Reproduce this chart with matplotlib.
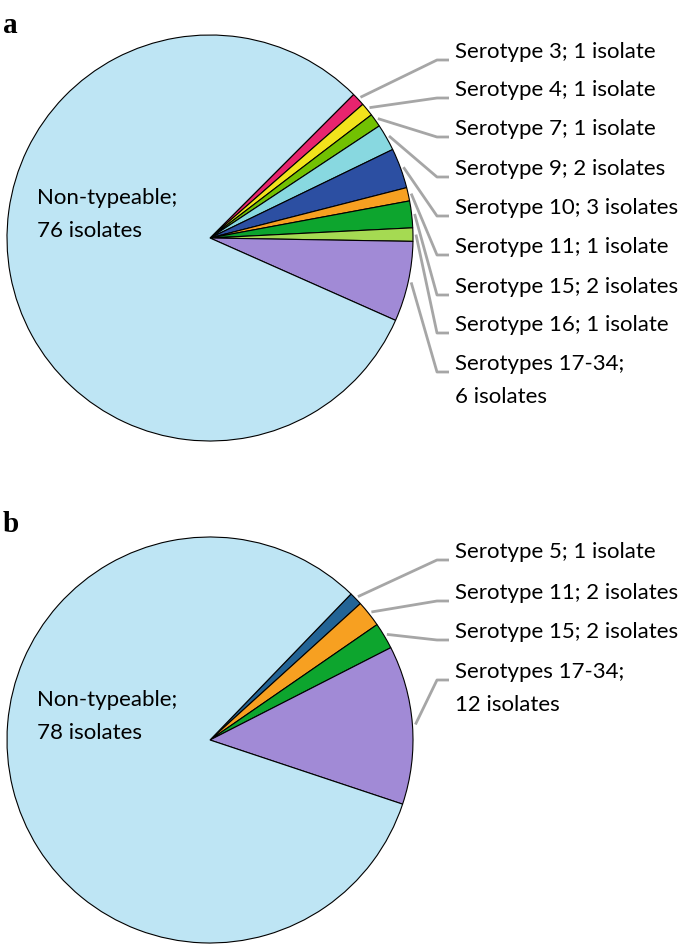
import numpy as np
import matplotlib
matplotlib.use("Agg")
import matplotlib.pyplot as plt

plt.rcParams['font.family'] = ['Lato', 'DejaVu Sans']

# panel a
labels_a = ['Serotype 3; 1 isolate', 'Serotype 4; 1 isolate', 'Serotype 7; 1 isolate',
            'Serotype 9; 2 isolates', 'Serotype 10; 3 isolates', 'Serotype 11; 1 isolate',
            'Serotype 15; 2 isolates', 'Serotype 16; 1 isolate', 'Serotypes 17-34;\n6 isolates']
counts_a = [1, 1, 1, 2, 3, 1, 2, 1, 6]
nontype_a = 76
colors_a = ['#E8246E', '#F2E31C', '#72C102', '#88D8E0', '#2C4FA2', '#F7A021',
            '#0DA52E', '#A5DA52', '#A18AD6']

# panel b
labels_b = ['Serotype 5; 1 isolate', 'Serotype 11; 2 isolates', 'Serotype 15; 2 isolates',
            'Serotypes 17-34;\n12 isolates']
counts_b = [1, 2, 2, 12]
nontype_b = 78
colors_b = ['#236496', '#F7A021', '#0DA52E', '#A18AD6']

nt_color = '#BEE5F4'
H = 946
FS = 16

fig = plt.figure(figsize=(6.85, 9.46), dpi=100)
ax = fig.add_axes([0, 0, 1, 1])


def draw_panel(counts, nontype, colors, labels, cx, cy, r, start, label_y, nt_text, nt_y):
    vals = counts + [nontype]
    cols = colors + [nt_color]
    wedges, _ = ax.pie(vals, colors=cols, startangle=start, counterclock=False,
                       center=(cx, H - cy), radius=r, frame=True,
                       wedgeprops=dict(edgecolor='black', linewidth=0.8))
    for w, lab, ly in zip(wedges[:-1], labels, label_y):
        mid = np.deg2rad((w.theta1 + w.theta2) / 2)
        x0 = cx + (r + 3) * np.cos(mid)
        y0 = H - cy + (r + 3) * np.sin(mid)
        lyy = H - (ly + 8)
        ax.plot([x0, 437, 449], [y0, lyy, lyy], color='#A6A6A6', lw=2, solid_capstyle='butt')
        lines = lab.split('\n')
        for k, t in enumerate(lines):
            ax.text(455, H - ly - 33 * k, t, fontsize=FS, va='center', ha='left')
    for k, t in enumerate(nt_text.split('\n')):
        ax.text(37, H - nt_y - 33 * k, t, fontsize=FS, va='center', ha='left')


draw_panel(counts_a, nontype_a, colors_a, labels_a, 210, 238, 203, 45,
           [52, 90, 129, 169, 208, 247, 287, 325, 364], 'Non-typeable;\n76 isolates', 198)
draw_panel(counts_b, nontype_b, colors_b, labels_b, 210, 740, 203, 46,
           [552, 593, 632, 672], 'Non-typeable;\n78 isolates', 700)

ax.text(3, H - 26, 'a', fontsize=21, fontweight='bold', family='Liberation Serif', va='center')
ax.text(3, H - 525, 'b', fontsize=21, fontweight='bold', family='Liberation Serif', va='center')

ax.set_xlim(0, 685)
ax.set_ylim(0, H)
ax.set_aspect('equal')
ax.axis('off')

fig.savefig('out.png', dpi=100)
